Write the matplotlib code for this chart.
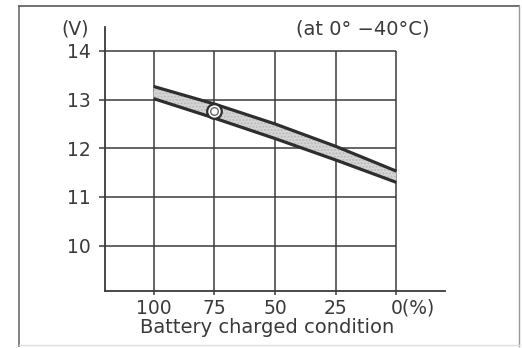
import matplotlib
matplotlib.use("Agg")
import matplotlib.pyplot as plt
import matplotlib.transforms as mtransforms
from matplotlib.lines import Line2D

# ---- data ----
charge_pct = [100, 75, 50, 25, 0]
upper_v = [13.27, 12.91, 12.50, 12.04, 11.53]
lower_v = [13.02, 12.62, 12.20, 11.76, 11.30]
marker_pct = [75]
marker_v = [12.76]
y_ticks = [10, 11, 12, 13, 14]
x_ticks = [100, 75, 50, 25, 0]
x_tick_labels = ["100", "75", "50", "25", "0(%)"]

plt.rcParams['font.family'] = ['DejaVu Sans']
FS = 13.5
TXT = '#3a3a3a'
LN = '#3a3a3a'

fig = plt.figure(figsize=(5.22, 3.48), dpi=100)
ax = fig.add_axes([105/522, 1-291/348, 340/522, 264/348])
ax.set_xlim(120, -20)
ax.set_ylim(9.07, 14.49)

# grid
for y in y_ticks:
    ax.plot([120, 0], [y, y], color=LN, lw=1.1, zorder=1, solid_capstyle='butt')
for x in x_ticks:
    ax.plot([x, x], [9.07, 14], color=LN, lw=1.1, zorder=1, solid_capstyle='butt')

# band
ax.fill_between(charge_pct, lower_v, upper_v, facecolor='#d6d6d6', edgecolor='#b8b8b8',
                hatch='.....', lw=0, zorder=2)
ax.plot(charge_pct, upper_v, color='#2e2e2e', lw=2.3, zorder=3, solid_capstyle='butt')
ax.plot(charge_pct, lower_v, color='#2e2e2e', lw=2.3, zorder=3, solid_capstyle='butt')

# marker
ax.plot(marker_pct, marker_v, 'o', ms=10.5, mfc='white', mec='#2e2e2e', mew=1.6, zorder=4)
ax.plot(marker_pct, marker_v, 'o', ms=5.5, mfc='white', mec='#666666', mew=1.0, zorder=5)

# spines / ticks
for s in ['top', 'right']:
    ax.spines[s].set_visible(False)
for s in ['left', 'bottom']:
    ax.spines[s].set_color(LN)
    ax.spines[s].set_linewidth(1.3)
ax.set_yticks(y_ticks)
ax.set_xticks(x_ticks)
ax.set_xticklabels(x_tick_labels)
ax.tick_params(axis='y', direction='out', length=4.5, width=1.1, color=LN,
               labelsize=FS, labelcolor=TXT, pad=6)
ax.tick_params(axis='x', direction='out', length=3, width=1.1, color=LN,
               labelsize=FS, labelcolor=TXT, pad=2.5)
# keep the "0" of "0(%)" centred on its tick
last = ax.get_xticklabels()[-1]
last.set_horizontalalignment('left')
last.set_transform(last.get_transform() +
                   mtransforms.ScaledTranslation(-FS*0.318/72, 0, fig.dpi_scale_trans))
ax.set_facecolor('none')

# texts
fig.text(75/522, 1-29/348, "(V)", ha='center', va='center', fontsize=FS, color=TXT)
fig.text(363/522, 1-29/348, "(at 0\u00b0 \u221240\u00b0C)", ha='center', va='center',
         fontsize=FS+0.5, color=TXT)
fig.text(267/522, 1-333/348, "Battery charged condition", ha='center', va='baseline',
         fontsize=14, color=TXT)

# outer frame
fig.add_artist(Line2D([19/522, 19/522], [1-6/348, 1-346/348], transform=fig.transFigure,
                      color='#777777', lw=1.3))
fig.add_artist(Line2D([19/522, 519/522], [1-6/348, 1-6/348], transform=fig.transFigure,
                      color='#666666', lw=1.3))
fig.add_artist(Line2D([519/522, 519/522], [1-6/348, 1-346/348], transform=fig.transFigure,
                      color='#999999', lw=1.0))
fig.add_artist(Line2D([19/522, 519/522], [1-345/348, 1-345/348], transform=fig.transFigure,
                      color='#dddddd', lw=1.0))

fig.savefig("out.png", dpi=100)
